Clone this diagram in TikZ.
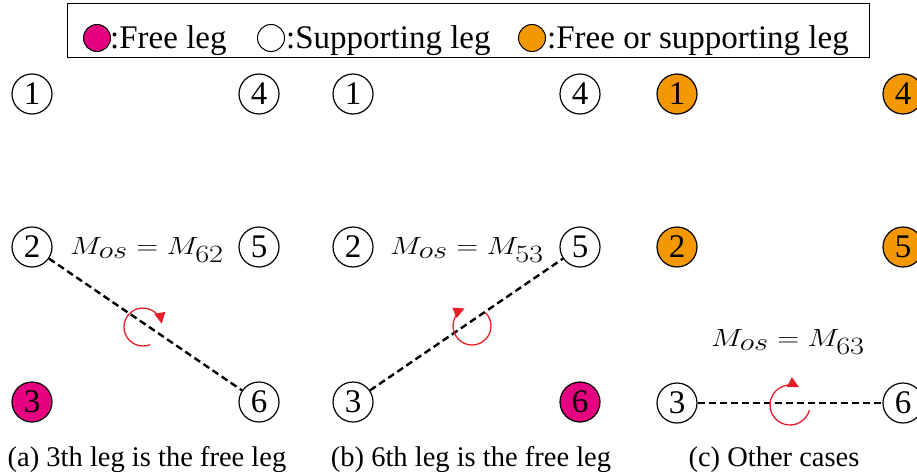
\documentclass[tikz,border=0pt]{standalone}
\usepackage{fontspec}
\setmainfont{Liberation Serif}
\usetikzlibrary{arrows.meta}
\definecolor{freecol}{RGB}{228,0,127}
\definecolor{eithercol}{RGB}{243,152,0}
\definecolor{rotred}{RGB}{232,30,40}
\newcommand{\wideeq}[1]{\scalebox{1.22}[1]{$#1$}}
\tikzset{
  leg/.style={circle,draw=black,line width=1.2pt,minimum size=40pt,inner sep=0pt,
    font=\fontsize{33}{36}\selectfont},
  freeleg/.style={leg,fill=freecol},
  supleg/.style={leg,fill=white},
  eitherleg/.style={leg,fill=eithercol},
  legendmark/.style={circle,draw=black,line width=1pt,minimum size=27pt,inner sep=0pt},
  legendtext/.style={anchor=base west,inner sep=0pt,font=\fontsize{33}{38}\selectfont},
  link/.style={dashed,line width=2.4pt,dash pattern=on 7pt off 4pt},
  rot/.style={draw=rotred,line width=1.3pt,-{Triangle[length=11pt,width=11pt]}},
  eqn/.style={font=\fontsize{35}{40}\selectfont,inner sep=0pt},
  caption/.style={font=\fontsize{28.5}{34}\selectfont,inner sep=0pt,anchor=base}
}
\begin{document}
\begin{tikzpicture}[x=1pt,y=-1pt]
\useasboundingbox (0,0) rectangle (917,471);
\clip (0,0) rectangle (917,471);
% legend
\node[draw=black,line width=1pt,minimum width=802pt,minimum height=54pt,inner sep=0pt] (legendbox) at (468,30) {};
\node[legendmark,fill=freecol] (lm1) at (97,38) {};
\node[legendtext] (lt1) at (110,48) {:Free leg};
\node[legendmark,fill=white] (lm2) at (271,38) {};
\node[legendtext] (lt2) at (286,48) {:Supporting leg};
\node[legendmark,fill=eithercol] (lm3) at (532,38) {};
\node[legendtext] (lt3) at (547,48) {:Free or supporting leg};
% (a)
\node[supleg] (a1) at (32,94) {1};
\node[supleg] (a4) at (259,94) {4};
\node[supleg] (a2) at (32,247) {2};
\node[supleg] (a5) at (259,247) {5};
\node[freeleg] (a3) at (32,402) {3};
\node[supleg] (a6) at (259,402) {6};
\draw[link] (a2) -- (a6);
\node[eqn] (ea) at (147,250) {\wideeq{M_{os}=M_{62}}};
\coordinate (ra) at (143,327);
\draw[rot] ([shift={(68:19)}]ra) arc[start angle=68,end angle=350,radius=19];
% (b)
\node[supleg] (b1) at (353,94) {1};
\node[supleg] (b4) at (580,94) {4};
\node[supleg] (b2) at (353,247) {2};
\node[supleg] (b5) at (580,247) {5};
\node[supleg] (b3) at (353,402) {3};
\node[freeleg] (b6) at (580,402) {6};
\draw[link] (b3) -- (b5);
\node[eqn] (eb) at (467,250) {\wideeq{M_{os}=M_{53}}};
\coordinate (rb) at (472,326);
\draw[rot] ([shift={(-45:19)}]rb) arc[start angle=-45,end angle=247,radius=19];
% (c)
\node[eqn] (ec) at (788,342) {\wideeq{M_{os}=M_{63}}};
\node[eitherleg] (c1) at (677,94) {1};
\node[eitherleg] (c4) at (903,94) {4};
\node[eitherleg] (c2) at (677,247) {2};
\node[eitherleg] (c5) at (903,247) {5};
\node[supleg] (c3) at (677,403) {3};
\node[supleg] (c6) at (903,403) {6};
\draw[link] (c3) -- (c6);
\coordinate (rc) at (790,405);
\draw[rot] ([shift={(15:20)}]rc) arc[start angle=15,end angle=297,radius=20];
% captions
\node[caption] (capa) at (147,466) {(a) 3th leg is the free leg};
\node[caption] (capb) at (471,466) {(b) 6th leg is the free leg};
\node[caption] (capc) at (774,466) {(c) Other cases};
\end{tikzpicture}
\end{document}
